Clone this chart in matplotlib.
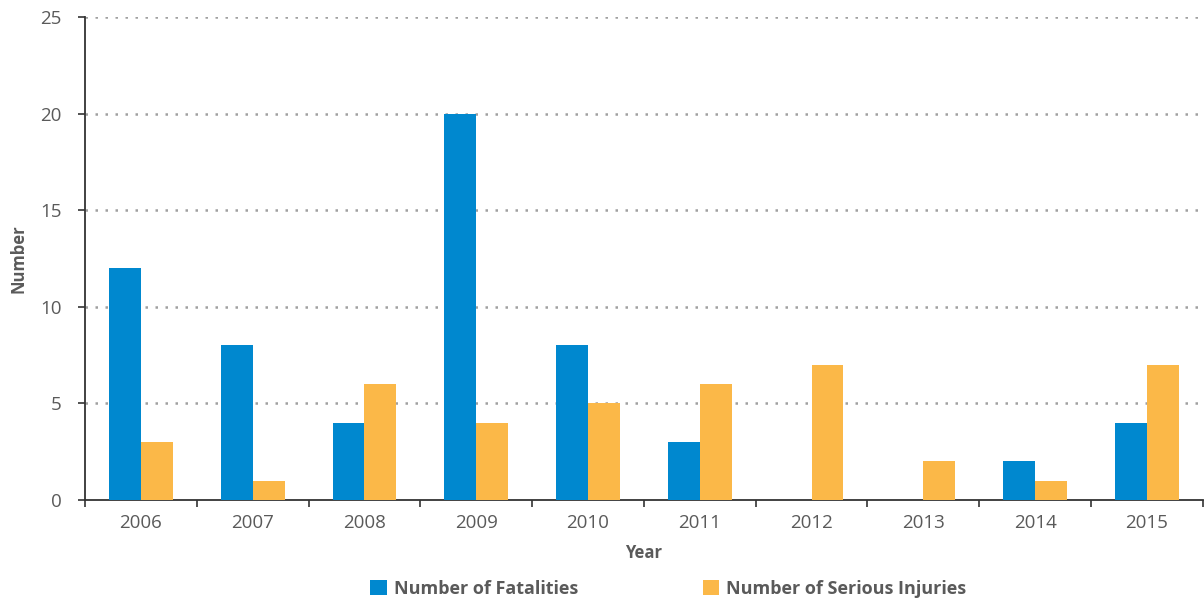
import numpy as np
import matplotlib.pyplot as plt
from matplotlib.ticker import FixedLocator

years = ['2006', '2007', '2008', '2009', '2010', '2011', '2012', '2013', '2014', '2015']
fatalities = [12, 8, 4, 20, 8, 3, 0, 0, 2, 4]
injuries = [3, 1, 6, 4, 5, 6, 7, 2, 1, 7]

blue = '#0088cf'
orange = '#fbb848'
grey_txt = '#5a5a5a'

plt.rcParams['font.family'] = 'Open Sans'

fig = plt.figure(figsize=(12.04, 6.0), dpi=100)
ax = fig.add_axes([0.0706, 0.1667, 0.9284, 0.805])

x = np.arange(len(years))
w = 0.285
ax.bar(x - w / 2, fatalities, w, color=blue, label='Number of Fatalities', zorder=3)
ax.bar(x + w / 2, injuries, w, color=orange, label='Number of Serious Injuries', zorder=3)

ax.set_xlim(-0.5, len(years) - 0.5)
ax.set_ylim(0, 25)
ax.set_yticks([0, 5, 10, 15, 20, 25])
ax.set_xticks(x)
ax.set_xticklabels(years)
ax.xaxis.set_minor_locator(FixedLocator(np.arange(-0.5, len(years), 1.0)))
ax.tick_params(axis='x', which='major', length=0, pad=10, labelsize=13.5, labelcolor=grey_txt)
ax.tick_params(axis='x', which='minor', length=5, width=1.2, color='#333333')
ax.tick_params(axis='y', length=5, width=1.2, color='#333333', pad=12, labelsize=13.5, labelcolor=grey_txt)

for y in [5, 10, 15, 20, 25]:
    ax.axhline(y, color='#a0a0a0', linestyle=(0, (1, 3)), linewidth=1.8, zorder=1)

for side in ['top', 'right']:
    ax.spines[side].set_visible(False)
for side in ['left', 'bottom']:
    ax.spines[side].set_linewidth(1.3)
    ax.spines[side].set_color('#333333')

ax.set_xlabel('Year', fontsize=12, fontweight='bold', color=grey_txt, labelpad=9)
ax.set_ylabel('Number', fontsize=12, fontweight='bold', color=grey_txt, labelpad=9)

fig.legend(loc='center', bbox_to_anchor=(0.555, 0.019), ncol=2, frameon=False,
           handlelength=0.9, handleheight=0.9, handletextpad=0.4,
           columnspacing=6.9, prop={'weight': 'bold', 'size': 13},
           labelcolor=grey_txt)

fig.savefig('out.png', dpi=100)
